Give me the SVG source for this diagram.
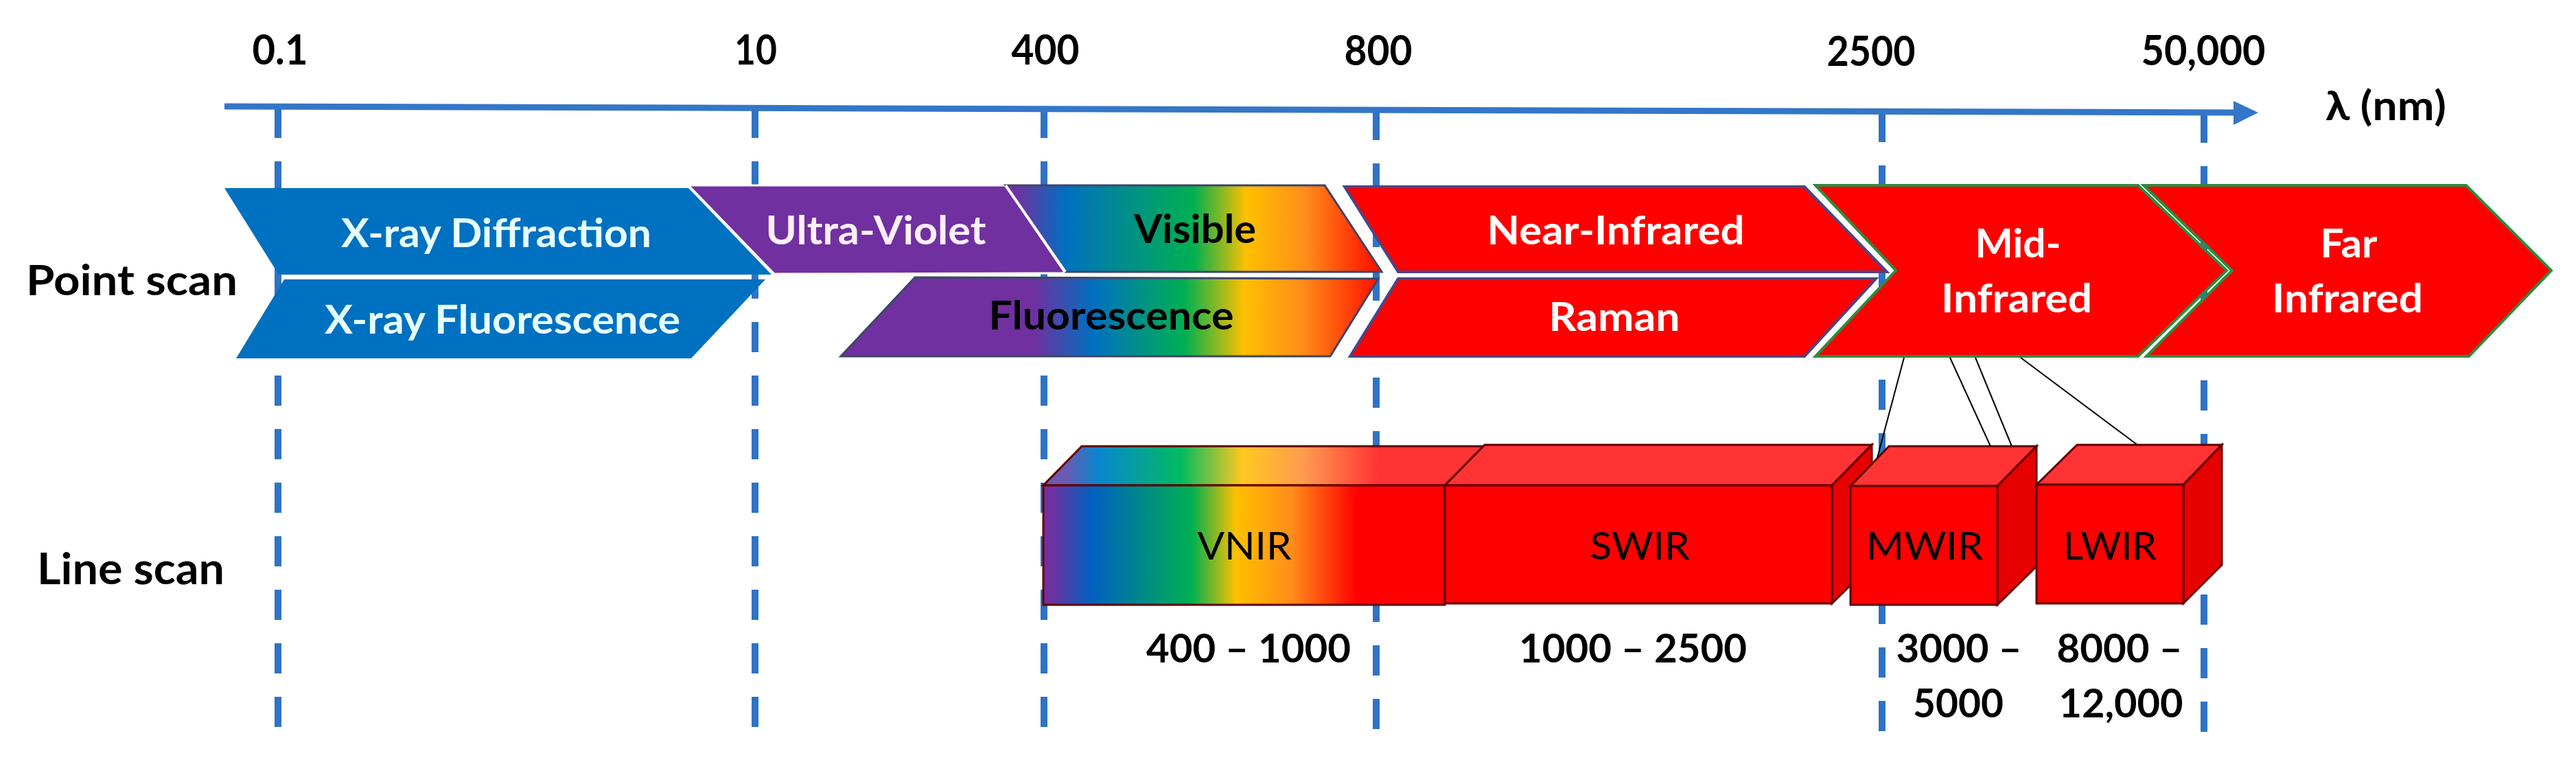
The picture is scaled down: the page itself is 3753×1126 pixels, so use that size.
<svg xmlns="http://www.w3.org/2000/svg" width="3753" height="1126" viewBox="0 0 3753 1126">
<style>
text{font-family:Lato,"Open Sans","DejaVu Sans",sans-serif;}
.tick{font-size:61px;font-weight:700;fill:#000;text-anchor:middle;}
.row{font-size:62px;font-weight:700;fill:#000;}
.lbl{font-size:58px;font-weight:700;text-anchor:middle;}
.wt{fill:#fff;}
.xt{fill:#E6FFFF;}
.bk{fill:#000;}
.cube{font-size:57px;font-weight:400;fill:#000;text-anchor:middle;}
.rng{font-size:57px;font-weight:700;fill:#000;text-anchor:middle;}
.dash{stroke:#2F73C6;stroke-width:10;stroke-dasharray:44 34;fill:none;}
.xray{fill:#0070C0;}
.uv{fill:#7030A0;stroke:#fff;stroke-width:3;}
.nir{fill:#FF0000;stroke:#4B4585;stroke-width:4;}
.mir{fill:#FF0000;stroke:#2E8B3E;stroke-width:4;}
.front{stroke:#600000;stroke-width:3;}
.top{stroke:#600000;stroke-width:3;}
.side{fill:#E60000;stroke:#600000;stroke-width:3;}
.conn{stroke:#000;stroke-width:2;fill:none;}
</style>
<defs>
<linearGradient id="gVis" gradientUnits="userSpaceOnUse" x1="1465" y1="0" x2="2013" y2="0">
<stop offset="0.03" stop-color="#7030A0"/>
<stop offset="0.16" stop-color="#0070C0"/>
<stop offset="0.5" stop-color="#00B050"/>
<stop offset="0.64" stop-color="#FFC000"/>
<stop offset="0.8" stop-color="#FF8C1A"/>
<stop offset="0.97" stop-color="#FF1A00"/>
</linearGradient>
<linearGradient id="gFluo" gradientUnits="userSpaceOnUse" x1="1225" y1="0" x2="2008" y2="0">
<stop offset="0.36" stop-color="#7030A0"/>
<stop offset="0.47" stop-color="#0070C0"/>
<stop offset="0.64" stop-color="#00B050"/>
<stop offset="0.75" stop-color="#FFC000"/>
<stop offset="0.86" stop-color="#FF8C1A"/>
<stop offset="0.99" stop-color="#FF1A00"/>
</linearGradient>
<linearGradient id="gVnir" gradientUnits="userSpaceOnUse" x1="1520" y1="0" x2="2105" y2="0">
<stop offset="0.02" stop-color="#7030A0"/>
<stop offset="0.12" stop-color="#0060C0"/>
<stop offset="0.37" stop-color="#00B050"/>
<stop offset="0.48" stop-color="#FFC000"/>
<stop offset="0.62" stop-color="#FF8C1A"/>
<stop offset="0.78" stop-color="#FF0000"/>
</linearGradient>
<linearGradient id="gVnirTop" gradientUnits="userSpaceOnUse" x1="1540" y1="0" x2="2140" y2="0">
<stop offset="0.02" stop-color="#6A5AB0"/>
<stop offset="0.1" stop-color="#0A86D0"/>
<stop offset="0.3" stop-color="#00BB60"/>
<stop offset="0.45" stop-color="#FFC820"/>
<stop offset="0.6" stop-color="#FF9A50"/>
<stop offset="0.78" stop-color="#FF3333"/>
</linearGradient>
</defs>

<g id="grid">
<line class="dash" x1="405" y1="157" x2="405" y2="1060"/>
<line class="dash" x1="1100" y1="157" x2="1100" y2="1060"/>
<line class="dash" x1="1521" y1="157" x2="1521" y2="1066"/>
<line class="dash" x1="2005" y1="160" x2="2005" y2="1066"/>
<line class="dash" x1="2742" y1="163" x2="2742" y2="1066"/>
<line class="dash" x1="3211" y1="164" x2="3211" y2="1066"/>
</g>

<g id="axis">
<line x1="327" y1="155" x2="3260" y2="164" stroke="#3476C8" stroke-width="9"/>
<polygon points="3254,147 3290,164 3254,182" fill="#3476C8"/>
<text class="tick" x="408" y="94" textLength="81" lengthAdjust="spacingAndGlyphs">0.1</text>
<text class="tick" x="1101" y="94" textLength="62" lengthAdjust="spacingAndGlyphs">10</text>
<text class="tick" x="1523" y="94" textLength="99" lengthAdjust="spacingAndGlyphs">400</text>
<text class="tick" x="2008" y="95" textLength="99" lengthAdjust="spacingAndGlyphs">800</text>
<text class="tick" x="2726" y="96" textLength="129" lengthAdjust="spacingAndGlyphs">2500</text>
<text class="tick" x="3210" y="95" textLength="181" lengthAdjust="spacingAndGlyphs">50,000</text>
<text x="3476" y="175" textLength="176" lengthAdjust="spacingAndGlyphs" style="font-size:60px;font-weight:700;text-anchor:middle">λ (nm)</text>
</g>

<text class="row" x="38" y="430" textLength="308" lengthAdjust="spacingAndGlyphs">Point scan</text>
<text class="row" x="54" y="851" textLength="273" lengthAdjust="spacingAndGlyphs" style="font-size:64px">Line scan</text>

<g id="xray-diffraction">
<polygon class="xray" points="327,274 1003,274 1124,400 406,400"/>
<text class="lbl xt" x="723" y="360" textLength="452" lengthAdjust="spacingAndGlyphs">X-ray Diffraction</text>
</g>
<g id="xray-fluorescence">
<polygon class="xray" points="414,407 1115,407 1007,522 344,522"/>
<text class="lbl xt" x="732" y="486" textLength="518" lengthAdjust="spacingAndGlyphs">X-ray Fluorescence</text>
</g>
<g id="ultra-violet">
<polygon class="uv" points="1003,270 1465,270 1552,398 1128,399"/>
<text class="lbl" x="1276" y="356" fill="#FFF0F8" textLength="321" lengthAdjust="spacingAndGlyphs">Ultra-Violet</text>
</g>
<g id="visible">
<polygon points="1465,270 1930,270 2013,396 1552,396" fill="url(#gVis)" stroke="#3D4666" stroke-width="3"/>
<line x1="1465" y1="270" x2="1552" y2="396" stroke="#fff" stroke-width="4"/>
<text class="lbl bk" x="1741" y="354" textLength="178" lengthAdjust="spacingAndGlyphs">Visible</text>
</g>
<g id="fluorescence">
<polygon points="1333,404 2008,406 1938,519 1225,519" fill="url(#gFluo)" stroke="#3D4666" stroke-width="3"/>
<text class="lbl bk" x="1619" y="480" textLength="357" lengthAdjust="spacingAndGlyphs">Fluorescence</text>
</g>
<g id="near-infrared">
<polygon class="nir" points="1959,272 2629,272 2749,396 2037,396"/>
<text class="lbl wt" x="2354" y="356" textLength="375" lengthAdjust="spacingAndGlyphs">Near-Infrared</text>
</g>
<g id="raman">
<polygon class="nir" points="2037,406 2733,406 2629,519 1967,519"/>
<text class="lbl wt" x="2352" y="482" textLength="191" lengthAdjust="spacingAndGlyphs">Raman</text>
</g>
<g id="mid-infrared">
<polygon class="mir" points="2645,270 3115,270 3244,394 3115,519 2645,519 2762,394"/>
<text class="lbl wt" x="2940" y="375" textLength="125" lengthAdjust="spacingAndGlyphs">Mid-</text>
<text class="lbl wt" x="2938" y="455" textLength="220" lengthAdjust="spacingAndGlyphs">Infrared</text>
</g>
<g id="far-infrared">
<polygon class="mir" points="3123,270 3593,270 3717,394 3597,519 3127,519 3252,394"/>
<text class="lbl wt" x="3422" y="375" textLength="83" lengthAdjust="spacingAndGlyphs">Far</text>
<text class="lbl wt" x="3420" y="455" textLength="220" lengthAdjust="spacingAndGlyphs">Infrared</text>
</g>

<g id="vnir">
<polygon class="top" points="1520,707 1576,650 2163,650 2105,707" fill="url(#gVnirTop)"/>
<rect class="front" x="1520" y="707" width="585" height="174" fill="url(#gVnir)"/>
<text class="cube" x="1813" y="815" textLength="137" lengthAdjust="spacingAndGlyphs">VNIR</text>
<text class="rng" x="1819" y="965" textLength="298" lengthAdjust="spacingAndGlyphs">400 – 1000</text>
</g>
<g id="swir">
<polygon class="top" points="2105,707 2163,648 2727,648 2669,707" fill="#FF3333"/>
<polygon class="side" points="2669,707 2727,648 2727,822 2669,879"/>
<rect class="front" x="2105" y="707" width="564" height="172" fill="#FF0000"/>
<text class="cube" x="2389" y="815" textLength="145" lengthAdjust="spacingAndGlyphs">SWIR</text>
<text class="rng" x="2379" y="965" textLength="332" lengthAdjust="spacingAndGlyphs">1000 – 2500</text>
</g>
<g id="mwir">
<polygon class="top" points="2696,708 2752,650 2967,650 2910,708" fill="#FF3333"/>
<polygon class="side" points="2910,708 2967,650 2967,825 2910,881"/>
<rect class="front" x="2696" y="708" width="214" height="173" fill="#FF0000"/>
<text class="cube" x="2804" y="815" textLength="170" lengthAdjust="spacingAndGlyphs">MWIR</text>
<text class="rng" x="2854" y="965" textLength="183" lengthAdjust="spacingAndGlyphs">3000 –</text>
<text class="rng" x="2853" y="1045" textLength="132" lengthAdjust="spacingAndGlyphs">5000</text>
</g>
<g id="lwir">
<polygon class="top" points="2967,706 3026,648 3237,648 3181,706" fill="#FF3333"/>
<polygon class="side" points="3181,706 3237,648 3237,823 3181,879"/>
<rect class="front" x="2967" y="706" width="214" height="173" fill="#FF0000"/>
<text class="cube" x="3074" y="815" textLength="136" lengthAdjust="spacingAndGlyphs">LWIR</text>
<text class="rng" x="3088" y="965" textLength="183" lengthAdjust="spacingAndGlyphs">8000 –</text>
<text class="rng" x="3090" y="1045" textLength="181" lengthAdjust="spacingAndGlyphs">12,000</text>
</g>

<g id="connectors">
<line class="conn" x1="2774" y1="521" x2="2735" y2="667"/>
<line class="conn" x1="2841" y1="521" x2="2900" y2="650"/>
<line class="conn" x1="2878" y1="521" x2="2931" y2="650"/>
<line class="conn" x1="2944" y1="521" x2="3114" y2="648"/>
</g>
</svg>
